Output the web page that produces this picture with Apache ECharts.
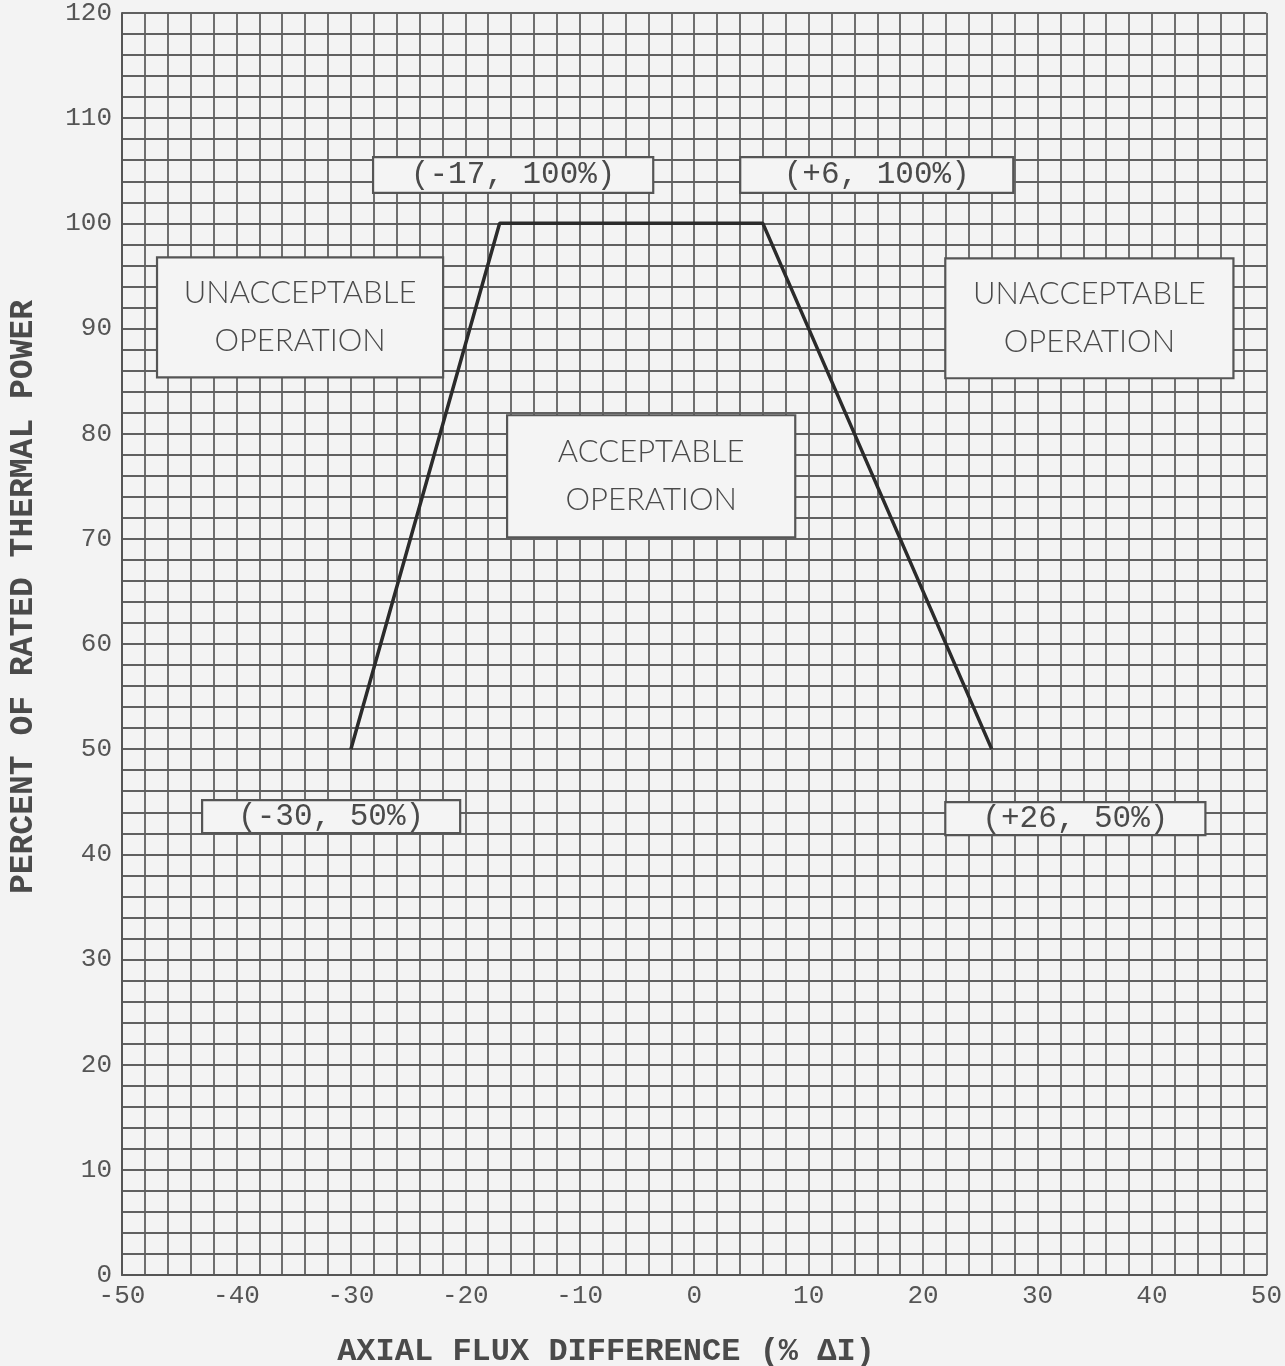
<!DOCTYPE html>
<html>
<head>
<meta charset="utf-8">
<script src="https://cdn.jsdelivr.net/npm/echarts@6/dist/echarts.min.js"></script>
<style>
html,body{margin:0;padding:0;background:#f3f3f3;}
#chart{width:1285px;height:1366px;}
</style>
</head>
<body>
<div id="chart"></div>
<script>
// Data: limit line points
const axialFluxDiff = [-30, -17, 6, 26];
const ratedPower = [50, 100, 100, 50];
// Axis ranges
const xRange = [-50, 50];
const yRange = [0, 120];
// Annotation texts
const annotationTexts = [
  '(-17, 100%)',
  '(+6, 100%)',
  'UNACCEPTABLE\nOPERATION',
  'UNACCEPTABLE\nOPERATION',
  'ACCEPTABLE\nOPERATION',
  '(-30, 50%)',
  '(+26, 50%)'
];
// Annotation box extents in data coordinates [x1, y1, x2, y2]
const annotationBoxes = [
  [-28.06, 106.3, -3.58, 102.9],
  [4.02, 106.3, 27.88, 102.9],
  [-46.94, 96.77, -21.94, 85.36],
  [21.94, 96.67, 47.12, 85.27],
  [-16.35, 81.75, 8.83, 70.15],
  [-43.0, 45.15, -20.45, 42.02],
  [21.94, 44.96, 44.67, 41.83]
];
const annotationKinds = ['coord','coord','region','region','region','coord','coord'];

const chart = echarts.init(document.getElementById('chart'));
const gridLine = {color: '#606060', width: 1.8};
const monoFont = "'Liberation Mono', 'DejaVu Sans Mono', monospace";

const areaData = annotationBoxes.map((b, i) => {
  const isCoord = annotationKinds[i] === 'coord';
  return [
    {
      xAxis: b[0], yAxis: b[1],
      itemStyle: {color: '#f4f4f4', borderColor: '#555', borderWidth: 2.2, opacity: 1},
      label: {
        show: true,
        position: 'inside',
        formatter: annotationTexts[i],
        color: '#4a4a4a',
        fontFamily: isCoord ? monoFont : "Lato, 'Noto Sans', sans-serif",
        fontSize: isCoord ? 31 : 31,
        fontWeight: isCoord ? 'normal' : 300,
        lineHeight: isCoord ? 32 : 48
      }
    },
    {xAxis: b[2], yAxis: b[3]}
  ];
});

const option = {
  backgroundColor: '#f3f3f3',
  animation: false,
  grid: {left: 122, right: 18, top: 13, bottom: 91, containLabel: false},
  xAxis: {
    type: 'value',
    min: xRange[0], max: xRange[1], interval: 10,
    axisLine: {show: true, onZero: false, lineStyle: {color: '#555', width: 2}},
    axisTick: {show: false},
    axisLabel: {
      color: '#555', fontFamily: monoFont, fontSize: 26, margin: 8,
      formatter: v => String(v)
    },
    splitLine: {show: true, lineStyle: gridLine},
    minorTick: {show: false, splitNumber: 5},
    minorSplitLine: {show: true, lineStyle: gridLine}
  },
  yAxis: {
    type: 'value',
    min: yRange[0], max: yRange[1], interval: 10,
    axisLine: {show: true, onZero: false, lineStyle: {color: '#555', width: 2}},
    axisTick: {show: false},
    axisLabel: {color: '#555', fontFamily: monoFont, fontSize: 26, margin: 10},
    splitLine: {show: true, lineStyle: gridLine},
    minorTick: {show: false, splitNumber: 5},
    minorSplitLine: {show: true, lineStyle: gridLine}
  },
  graphic: [
    {
      type: 'text', x: 606, y: 1352,
      style: {
        text: 'AXIAL FLUX DIFFERENCE (% ΔI)',
        font: "bold 32px 'Liberation Mono', monospace",
        fill: '#4a4a4a', textAlign: 'center', textVerticalAlign: 'middle'
      }
    },
    {
      type: 'text', x: 24, y: 597, rotation: Math.PI / 2,
      style: {
        text: 'PERCENT OF RATED THERMAL POWER',
        font: "bold 33px 'Liberation Mono', monospace",
        fill: '#4a4a4a', textAlign: 'center', textVerticalAlign: 'middle'
      }
    }
  ],
  series: [{
    type: 'line',
    data: axialFluxDiff.map((x, i) => [x, ratedPower[i]]),
    symbol: 'none',
    lineStyle: {color: '#2b2b2b', width: 3.5},
    z: 5,
    markArea: {silent: true, data: areaData}
  }]
};
chart.setOption(option);
</script>
</body>
</html>
